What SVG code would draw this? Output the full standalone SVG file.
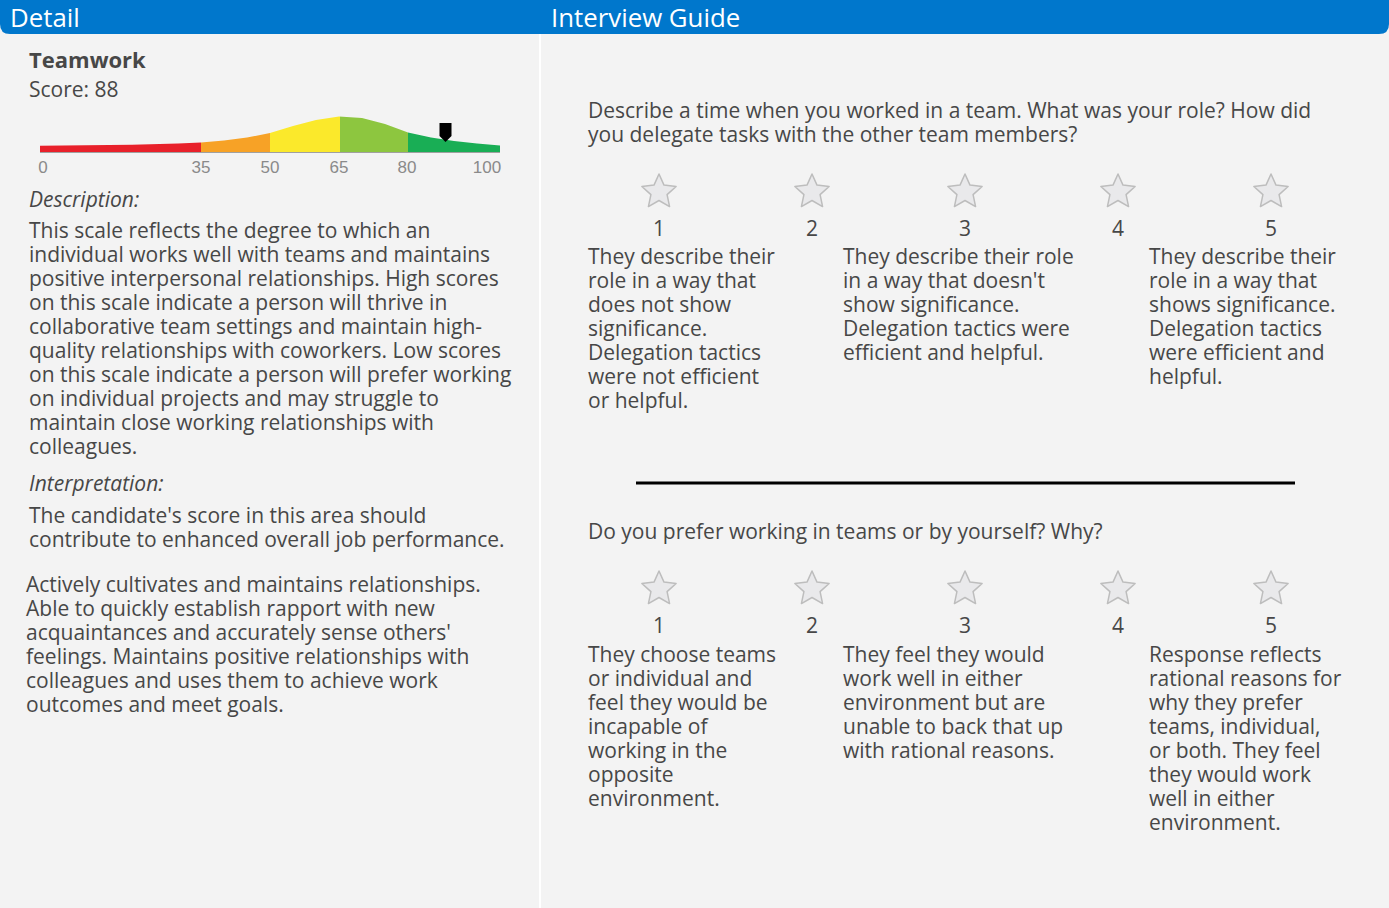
<svg xmlns="http://www.w3.org/2000/svg" xmlns:xlink="http://www.w3.org/1999/xlink" width="1389" height="908" viewBox="0 0 1389 908">
<style>
.t{font-family:"Open Sans","Noto Sans",sans-serif;font-size:21px;fill:#474747}
.it{font-style:italic}
.hd{font-family:"Open Sans","Noto Sans",sans-serif;font-size:25.8px;fill:#ffffff}
.b{font-weight:bold;font-size:22px}
.tick{font-family:"Liberation Sans",Arial,sans-serif;font-size:17px;fill:#8a8a8a;text-anchor:middle}
.num{text-anchor:middle}
.star{fill:#e9e9eb;stroke:#bdbdbd;stroke-width:1.5;stroke-linejoin:round}
</style>
<defs>
<path id="star" d="M0,-18 L5,-6.88 L17.12,-5.56 L8.08,2.63 L10.58,14.56 L0,8.5 L-10.58,14.56 L-8.08,2.63 L-17.12,-5.56 L-5,-6.88 Z"/>
<clipPath id="curve">
<path d="M40,152 L40,145.7 L86,145.3 L132,144.7 L178,143.5 L201,142.5 L224,140.5 L247,137.5 L270,133 L293,126 L316,120 L339,116.5 L362,118 L385,124 L408,132.5 L431,137.5 L454,141 L477,143.5 L500,145.5 L500,152 Z"/>
</clipPath>
</defs>
<rect x="0" y="0" width="1389" height="908" fill="#f3f3f3"/>
<g id="header">
<path d="M0,0 H1389 V24 Q1389,34 1379,34 H10 Q0,34 0,24 Z" fill="#0077cc"/>
<text class="hd" x="10" y="27">Detail</text>
<text class="hd" x="551" y="27">Interview Guide</text>
</g>
<line x1="540" y1="34" x2="540" y2="908" stroke="#ffffff" stroke-width="2"/>
<g id="detail">
<g id="chart">
<g clip-path="url(#curve)">
<rect x="38" y="110" width="163" height="43" fill="#e8202a"/>
<rect x="201" y="110" width="69" height="43" fill="#f7a226"/>
<rect x="270" y="110" width="70" height="43" fill="#fbe92b"/>
<rect x="340" y="110" width="68" height="43" fill="#8dc63f"/>
<rect x="408" y="110" width="94" height="43" fill="#19ae55"/>
</g>
<line x1="40" y1="152.5" x2="500" y2="152.5" stroke="#a0a0a0" stroke-width="1"/>
<path d="M439.5,123 H451.5 V136 L445.5,142 L439.5,136 Z" fill="#000"/>
<text class="tick" x="43" y="173">0</text>
<text class="tick" x="201" y="173">35</text>
<text class="tick" x="270" y="173">50</text>
<text class="tick" x="339" y="173">65</text>
<text class="tick" x="407" y="173">80</text>
<text class="tick" x="487" y="173">100</text>
</g>
<g transform="translate(0,1)">
<text class="t b" x="29" y="67">Teamwork</text>
<text class="t" x="29" y="96">Score: 88</text>
<text class="t it" x="29" y="206">Description:</text>
<text class="t" x="29" y="237">This scale reflects the degree to which an</text>
<text class="t" x="29" y="261">individual works well with teams and maintains</text>
<text class="t" x="29" y="285">positive interpersonal relationships. High scores</text>
<text class="t" x="29" y="309">on this scale indicate a person will thrive in</text>
<text class="t" x="29" y="333">collaborative team settings and maintain high-</text>
<text class="t" x="29" y="357">quality relationships with coworkers. Low scores</text>
<text class="t" x="29" y="381">on this scale indicate a person will prefer working</text>
<text class="t" x="29" y="405">on individual projects and may struggle to</text>
<text class="t" x="29" y="429">maintain close working relationships with</text>
<text class="t" x="29" y="453">colleagues.</text>
<text class="t it" x="29" y="490">Interpretation:</text>
<text class="t" x="29" y="522">The candidate's score in this area should</text>
<text class="t" x="29" y="546">contribute to enhanced overall job performance.</text>
<text class="t" x="26" y="591">Actively cultivates and maintains relationships.</text>
<text class="t" x="26" y="615">Able to quickly establish rapport with new</text>
<text class="t" x="26" y="639">acquaintances and accurately sense others'</text>
<text class="t" x="26" y="663">feelings. Maintains positive relationships with</text>
<text class="t" x="26" y="687">colleagues and uses them to achieve work</text>
<text class="t" x="26" y="711">outcomes and meet goals.</text>
</g>
</g>
<g id="question1">
<g id="q1-stars">
<use xlink:href="#star" class="star" x="659" y="192"/>
<use xlink:href="#star" class="star" x="812" y="192"/>
<use xlink:href="#star" class="star" x="965" y="192"/>
<use xlink:href="#star" class="star" x="1118" y="192"/>
<use xlink:href="#star" class="star" x="1271" y="192"/>
</g>
<g transform="translate(0,1)">
<text class="t" x="588" y="117">Describe a time when you worked in a team. What was your role? How did</text>
<text class="t" x="588" y="141">you delegate tasks with the other team members?</text>
<text class="t num" x="659" y="235">1</text>
<text class="t num" x="812" y="235">2</text>
<text class="t num" x="965" y="235">3</text>
<text class="t num" x="1118" y="235">4</text>
<text class="t num" x="1271" y="235">5</text>
<text class="t" x="588" y="263">They describe their</text>
<text class="t" x="588" y="287">role in a way that</text>
<text class="t" x="588" y="311">does not show</text>
<text class="t" x="588" y="335">significance.</text>
<text class="t" x="588" y="359">Delegation tactics</text>
<text class="t" x="588" y="383">were not efficient</text>
<text class="t" x="588" y="407">or helpful.</text>
<text class="t" x="843" y="263">They describe their role</text>
<text class="t" x="843" y="287">in a way that doesn't</text>
<text class="t" x="843" y="311">show significance.</text>
<text class="t" x="843" y="335">Delegation tactics were</text>
<text class="t" x="843" y="359">efficient and helpful.</text>
<text class="t" x="1149" y="263">They describe their</text>
<text class="t" x="1149" y="287">role in a way that</text>
<text class="t" x="1149" y="311">shows significance.</text>
<text class="t" x="1149" y="335">Delegation tactics</text>
<text class="t" x="1149" y="359">were efficient and</text>
<text class="t" x="1149" y="383">helpful.</text>
</g>
</g>
<line x1="636" y1="483" x2="1295" y2="483" stroke="#000" stroke-width="3"/>
<g id="question2">
<g id="q2-stars">
<use xlink:href="#star" class="star" x="659" y="589"/>
<use xlink:href="#star" class="star" x="812" y="589"/>
<use xlink:href="#star" class="star" x="965" y="589"/>
<use xlink:href="#star" class="star" x="1118" y="589"/>
<use xlink:href="#star" class="star" x="1271" y="589"/>
</g>
<g transform="translate(0,1)">
<text class="t" x="588" y="538">Do you prefer working in teams or by yourself? Why?</text>
<text class="t num" x="659" y="632">1</text>
<text class="t num" x="812" y="632">2</text>
<text class="t num" x="965" y="632">3</text>
<text class="t num" x="1118" y="632">4</text>
<text class="t num" x="1271" y="632">5</text>
<text class="t" x="588" y="661">They choose teams</text>
<text class="t" x="588" y="685">or individual and</text>
<text class="t" x="588" y="709">feel they would be</text>
<text class="t" x="588" y="733">incapable of</text>
<text class="t" x="588" y="757">working in the</text>
<text class="t" x="588" y="781">opposite</text>
<text class="t" x="588" y="805">environment.</text>
<text class="t" x="843" y="661">They feel they would</text>
<text class="t" x="843" y="685">work well in either</text>
<text class="t" x="843" y="709">environment but are</text>
<text class="t" x="843" y="733">unable to back that up</text>
<text class="t" x="843" y="757">with rational reasons.</text>
<text class="t" x="1149" y="661">Response reflects</text>
<text class="t" x="1149" y="685">rational reasons for</text>
<text class="t" x="1149" y="709">why they prefer</text>
<text class="t" x="1149" y="733">teams, individual,</text>
<text class="t" x="1149" y="757">or both. They feel</text>
<text class="t" x="1149" y="781">they would work</text>
<text class="t" x="1149" y="805">well in either</text>
<text class="t" x="1149" y="829">environment.</text>
</g>
</g>
</svg>
